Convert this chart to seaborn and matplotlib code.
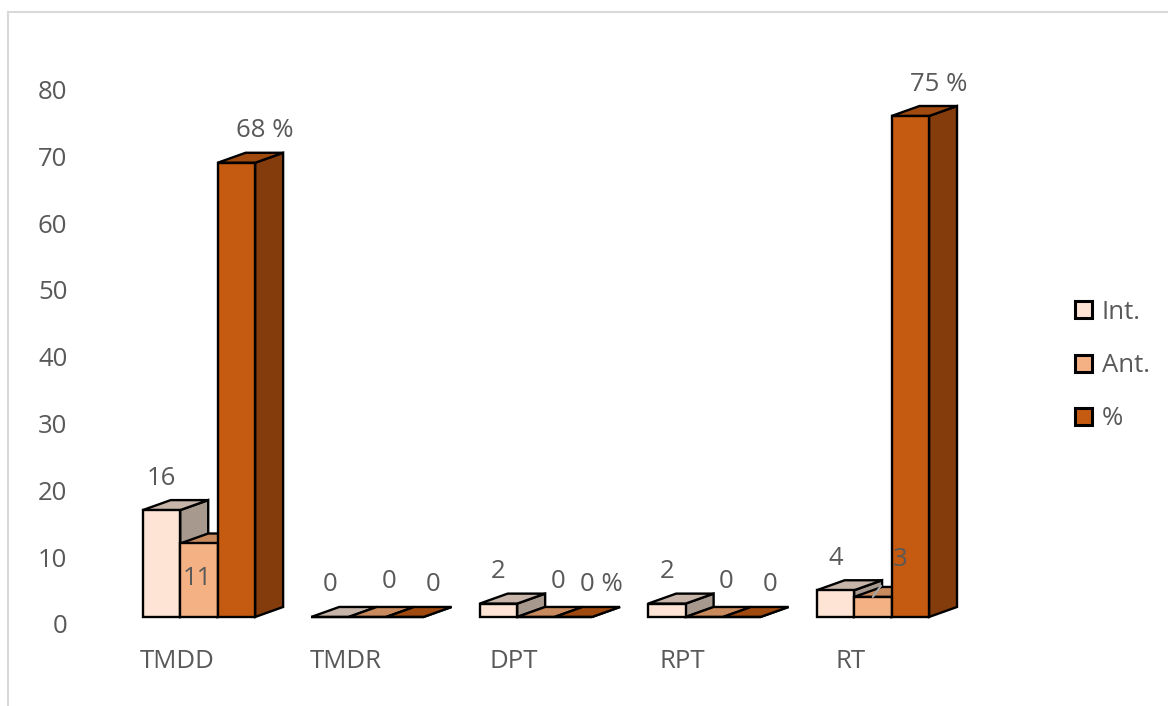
import matplotlib
matplotlib.use("Agg")
import matplotlib.pyplot as plt
import numpy as np
import pandas as pd
import seaborn as sns
from matplotlib.patches import Polygon, Patch
from matplotlib.lines import Line2D
from matplotlib.transforms import ScaledTranslation

# ---- data -------------------------------------------------------------
categories = ["TMDD", "TMDR", "DPT", "RPT", "RT"]
series = ["Int.", "Ant.", "%"]
int_values = [16, 0, 2, 2, 4]
ant_values = [11, 0, 0, 0, 3]
pct_values = [68, 0, 0, 0, 75]
int_labels = ["16", "0", "2", "2", "4"]
ant_labels = ["11", "0", "0", "0", "3"]
pct_labels = ["68 %", "0", "0 %", "0", "75 %"]
y_ticks = [0, 10, 20, 30, 40, 50, 60, 70, 80]

# ---- style ------------------------------------------------------------
front_colors = ["#FDE4D5", "#F4B183", "#C55A11"]
top_colors = ["#C7B5AA", "#C98A5E", "#A04A0F"]
side_colors = ["#A8998F", "#B2764C", "#843C0C"]
text_color = "#595959"
FS = 18.5
LW = 1.7
DEPTH_PX = (28, 10)          # oblique depth of the bars, in pixels
DPI = 100

sns.set_style("white")
plt.rcParams["font.family"] = ["Open Sans", "DejaVu Sans"]

df = pd.DataFrame({
    "category": categories * 3,
    "series": [s for s in series for _ in categories],
    "value": int_values + ant_values + pct_values,
})

fig = plt.figure(figsize=(11.68, 7.06), dpi=DPI)
ax = fig.add_axes([0.0982, 0.1261, 0.7212, 0.7569])

sns.barplot(data=df, x="category", y="value", hue="series",
            order=categories, hue_order=series, palette=front_colors,
            saturation=1, width=0.667, edgecolor="black", linewidth=LW,
            legend=False, ax=ax)

ax.set_xlim(-0.5, len(categories) - 0.5)
ax.set_ylim(0, 80)
ax.set_yticks(y_ticks)
ax.set_yticklabels([str(t) for t in y_ticks])
ax.set_xlabel("")
ax.set_ylabel("")
sns.despine(ax=ax, left=True, bottom=True)
ax.grid(False)

# depth offset converted to data units
p0 = ax.transData.transform((0, 0))
p1 = ax.transData.transform((1, 1))
ddx = DEPTH_PX[0] / (p1[0] - p0[0])
ddy = DEPTH_PX[1] / (p1[1] - p0[1])

# gather bars with their series index, draw left to right
bars = []
for si, cont in enumerate(ax.containers):
    for ci, bar in enumerate(cont):
        bars.append((bar.get_x(), si, ci, bar))
bars.sort(key=lambda t: t[0])

for rank, (x, si, ci, bar) in enumerate(bars):
    w = bar.get_width()
    h = bar.get_height()
    base = 2 + 3 * rank
    side = Polygon([(x + w, 0), (x + w + ddx, ddy), (x + w + ddx, h + ddy), (x + w, h)],
                   closed=True, facecolor=side_colors[si], edgecolor="black",
                   linewidth=LW, joinstyle="miter", zorder=base, clip_on=False)
    top = Polygon([(x, h), (x + w, h), (x + w + ddx, h + ddy), (x + ddx, h + ddy)],
                  closed=True, facecolor=top_colors[si], edgecolor="black",
                  linewidth=LW, joinstyle="miter", zorder=base + 1, clip_on=False)
    ax.add_patch(side)
    ax.add_patch(top)
    bar.set_zorder(base + 2)
    bar.set_joinstyle("miter")
    bar.set_clip_on(False)

# ---- value labels -----------------------------------------------------
all_labels = [int_labels, ant_labels, pct_labels]
label_offsets = [(0, -32), (22, -35), (28, -32)]   # pixels from front top centre
for x, si, ci, bar in bars:
    cx = x + bar.get_width() / 2
    h = bar.get_height()
    ox, oy = label_offsets[si]
    arrow = None
    if si == 1 and ci == 0:
        ox, oy = (-2, 35)
    if si == 1 and ci == 4:
        ox, oy = (27, -37)
        arrow = dict(arrowstyle="-", color="#A6A6A6", lw=1.5, shrinkA=10, shrinkB=0)
    ax.annotate(all_labels[si][ci], xy=(cx, h),
                xytext=(ox * 0.72, -oy * 0.72), textcoords="offset points",
                ha="center", va="center", fontsize=FS, color=text_color,
                arrowprops=arrow, zorder=200, annotation_clip=False)

# ---- ticks -------------------------------------------------------------
ax.tick_params(axis="both", length=0, labelsize=FS, labelcolor=text_color)
ax.tick_params(axis="y", pad=34)
ax.tick_params(axis="x", pad=23)
for lbl in ax.get_yticklabels():
    lbl.set_transform(lbl.get_transform() + ScaledTranslation(0, -0.07, fig.dpi_scale_trans))
for lbl in ax.get_xticklabels():
    lbl.set_transform(lbl.get_transform() + ScaledTranslation(-0.22, 0, fig.dpi_scale_trans))

# ---- legend ------------------------------------------------------------
handles = [Patch(facecolor=c, edgecolor="black", linewidth=2.2) for c in front_colors]
fig.legend(handles, series, loc="upper left", bbox_to_anchor=(1062 / 1168, 1 - 287 / 706),
           frameon=False, fontsize=FS, handlelength=0.65, handleheight=0.65,
           handletextpad=0.4, labelspacing=1.1, labelcolor=text_color, borderpad=0)

# ---- chart frame -------------------------------------------------------
fx = 8 / 1168
fy = 1 - 12 / 706
fig.add_artist(Line2D([fx, 1], [fy, fy], transform=fig.transFigure, color="#D9D9D9", lw=1.5))
fig.add_artist(Line2D([fx, fx], [0, fy], transform=fig.transFigure, color="#D9D9D9", lw=1.5))

fig.savefig("out.png", dpi=DPI)
